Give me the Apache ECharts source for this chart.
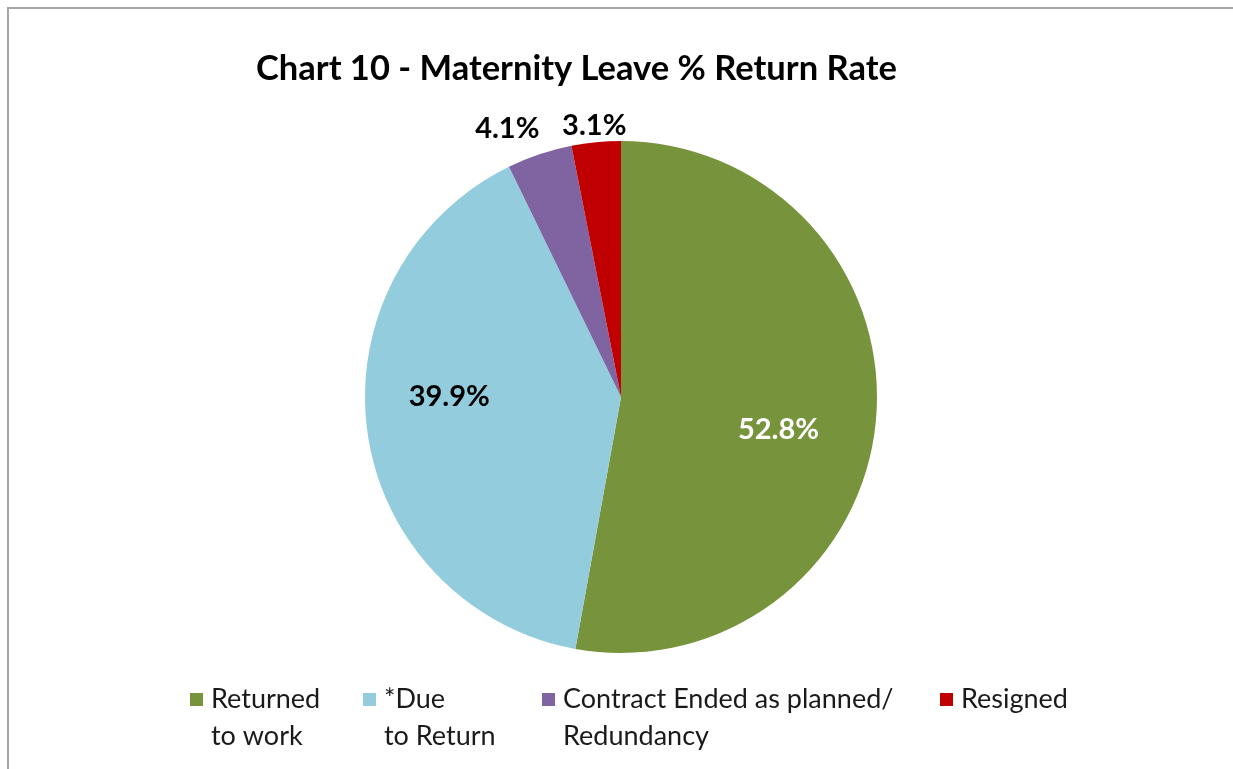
<!DOCTYPE html>
<html>
<head>
<meta charset="utf-8">
<script src="https://cdn.jsdelivr.net/npm/echarts@6/dist/echarts.min.js"></script>
<style>
  html, body { margin: 0; padding: 0; background: #fff; }
  #main { width: 1233px; height: 769px; }
</style>
</head>
<body>
<div id="main"></div>
<script>
const categories = ['Returned\nto work', '*Due\nto Return', 'Contract Ended as planned/\nRedundancy', 'Resigned'];
const values = [52.8, 39.9, 4.1, 3.1];
const colors = ['#77933c', '#93cddd', '#8064a2', '#c00000'];
// label nudges from the slice mid-radius point
const labelOffsets = [[27, 21], [-42, -18], [-72, -144], [-14, -141]];
const labelColors = ['#ffffff', '#000000', '#000000', '#000000'];
const legendLeft = [190, 363, 542, 940];

const font = 'Lato, "Noto Sans", sans-serif';

const legends = categories.map(function (name, i) {
  const twoLines = name.indexOf('\n') >= 0;
  return {
    data: [name],
    left: legendLeft[i],
    top: twoLines ? 644 : 681,
    padding: 0,
    orient: 'horizontal',
    icon: 'rect',
    itemWidth: 13,
    itemHeight: 13,
    selectedMode: false,
    // blank first line so the icon sits next to the first text line
    formatter: function (n) { return twoLines ? '\n' + n : n; },
    textStyle: {
      fontFamily: font,
      fontSize: 27,
      lineHeight: 37,
      color: '#1a1a1a',
      padding: [0, 0, 0, 3]
    }
  };
});

const chart = echarts.init(document.getElementById('main'), null, { renderer: 'canvas' });

chart.setOption({
  animation: false,
  color: colors,
  title: {
    text: 'Chart 10 - Maternity Leave % Return Rate',
    left: 256,
    top: 51,
    padding: 0,
    textStyle: {
      fontFamily: font,
      fontSize: 34.5,
      fontWeight: 'bold',
      color: '#000'
    }
  },
  graphic: [{
    type: 'rect',
    shape: { x: 8, y: 8, width: 1400, height: 900 },
    style: { fill: null, stroke: '#a6a6a6', lineWidth: 2 },
    silent: true
  }],
  legend: legends,
  series: [{
    type: 'pie',
    center: [621, 397],
    radius: 256,
    startAngle: 90,
    clockwise: true,
    avoidLabelOverlap: false,
    labelLine: { show: false },
    data: values.map(function (v, i) {
      return {
        name: categories[i],
        value: v,
        label: {
          show: true,
          position: 'inside',
          offset: labelOffsets[i],
          color: labelColors[i],
          fontFamily: font,
          fontSize: 29,
          fontWeight: 'bold',
          formatter: function (p) { return p.value.toFixed(1) + '%'; }
        }
      };
    }),
    itemStyle: { borderWidth: 0 },
    emphasis: { disabled: true }
  }]
});
</script>
</body>
</html>
